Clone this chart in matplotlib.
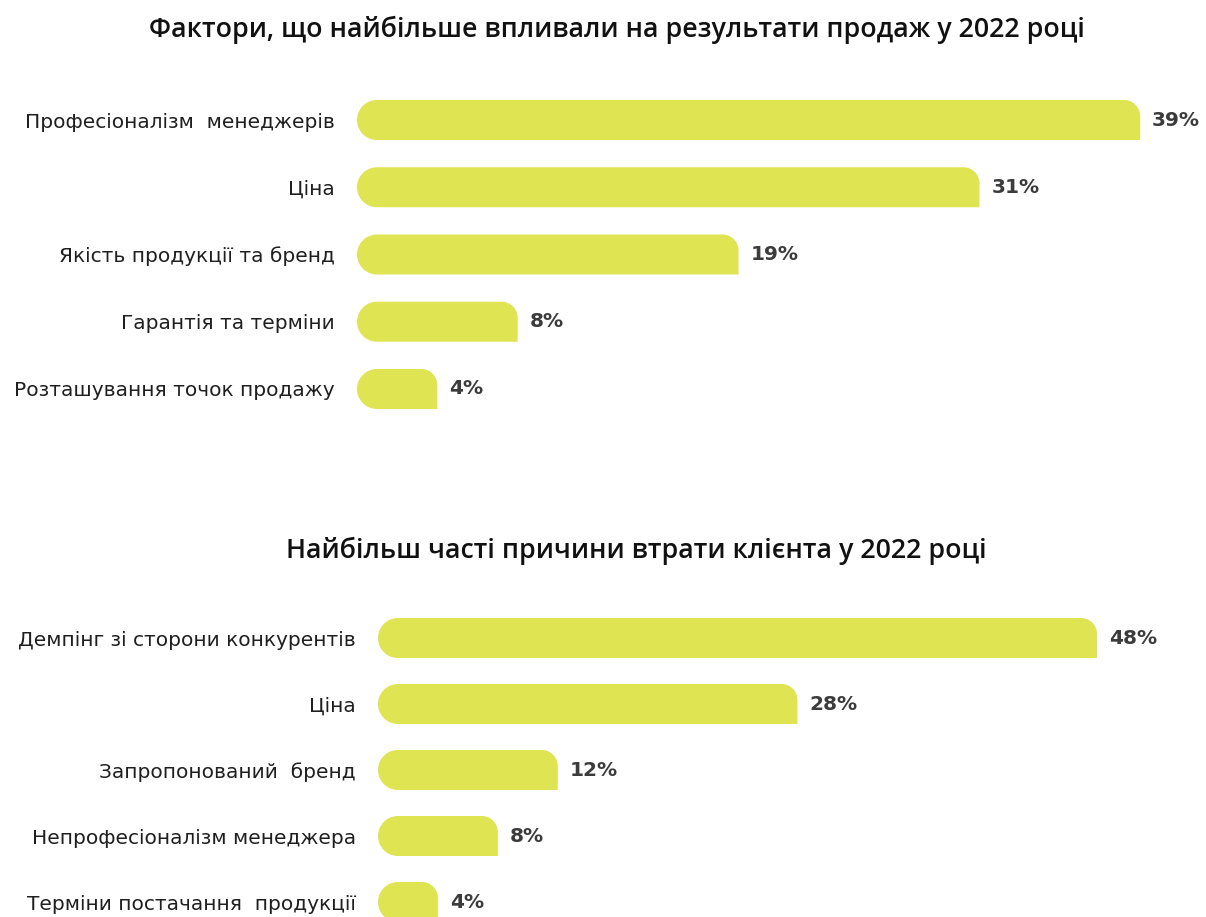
import numpy as np
import matplotlib
matplotlib.use("Agg")
import matplotlib.pyplot as plt
from matplotlib.patches import Polygon

# sales factors, 2022
top_title = "Фактори, що найбільше впливали на результати продаж у 2022 році"
top_labels = ["Професіоналізм  менеджерів", "Ціна", "Якість продукції та бренд",
              "Гарантія та терміни", "Розташування точок продажу"]
top_values = [39, 31, 19, 8, 4]

# reasons for losing a client, 2022
bottom_title = "Найбільш часті причини втрати клієнта у 2022 році"
bottom_labels = ["Демпінг зі сторони конкурентів", "Ціна", "Запропонований  бренд",
                 "Непрофесіоналізм менеджера", "Терміни постачання  продукції"]
bottom_values = [48, 28, 12, 8, 4]

BAR = "#dfe452"
TEXT = "#1f1f1f"
VAL = "#3c3c3c"
W, H = 1206, 917
DPI = 100

fig = plt.figure(figsize=(W / DPI, H / DPI), dpi=DPI)
fig.patch.set_facecolor("white")


def rounded_bar(ax, v, c, hh, ppx, ppy, rl=20, rr=16, n=20):
    # left end fully rounded, top-right corner rounded, bottom-right square
    rlx, rly = rl / ppx, rl / ppy
    rrx, rry = rr / ppx, rr / ppy
    pts = []
    for t in np.linspace(np.pi / 2, np.pi, n):
        pts.append((rlx + rlx * np.cos(t), c - hh + rly - rly * np.sin(t)))
    for t in np.linspace(np.pi, 1.5 * np.pi, n):
        pts.append((rlx + rlx * np.cos(t), c + hh - rly - rly * np.sin(t)))
    pts.append((v, c + hh))
    for t in np.linspace(0, np.pi / 2, n):
        pts.append((v - rrx + rrx * np.cos(t), c - hh + rry - rry * np.sin(t)))
    ax.add_patch(Polygon(pts, closed=True, facecolor=BAR, edgecolor="none"))


def panel(labels, values, x0, px_per, y_first, spacing, label_pad):
    n = len(values)
    top = y_first - spacing / 2
    height = spacing * n
    ax = fig.add_axes([x0 / W, 1 - (top + height) / H, (W - x0) / W, height / H])
    ax.set_xlim(0, (W - x0) / px_per)
    ax.set_ylim(n - 0.5, -0.5)
    ppy = spacing
    hh = 20 / ppy
    for i, v in enumerate(values):
        rounded_bar(ax, v, i, hh, px_per, ppy)
        ax.annotate(f"{v}%", (v, i), xytext=(12 * 72 / DPI, 0), textcoords="offset points",
                    ha="left", va="center", fontsize=14.5, fontweight="bold",
                    color=VAL, family="DejaVu Sans")
    ax.set_yticks(range(n))
    ax.set_yticklabels(labels, fontsize=14.5, color=TEXT, family="DejaVu Sans")
    ax.tick_params(axis="y", length=0, pad=label_pad * 72 / DPI)
    ax.set_xticks([])
    for s in ax.spines.values():
        s.set_visible(False)
    ax.patch.set_alpha(0)
    return ax


panel(top_labels, top_values, 357, 20.08, 120, 67.25, 22)
panel(bottom_labels, bottom_values, 378, 14.98, 638, 66, 22)

fig.text(617 / W, 1 - 30 / H, top_title, ha="center", va="center",
         fontsize=19.3, fontweight="semibold", color="#111111", family="Open Sans")
fig.text(636 / W, 1 - 551 / H, bottom_title, ha="center", va="center",
         fontsize=19.3, fontweight="semibold", color="#111111", family="Open Sans")

fig.savefig("out.png", dpi=DPI, facecolor="white")
